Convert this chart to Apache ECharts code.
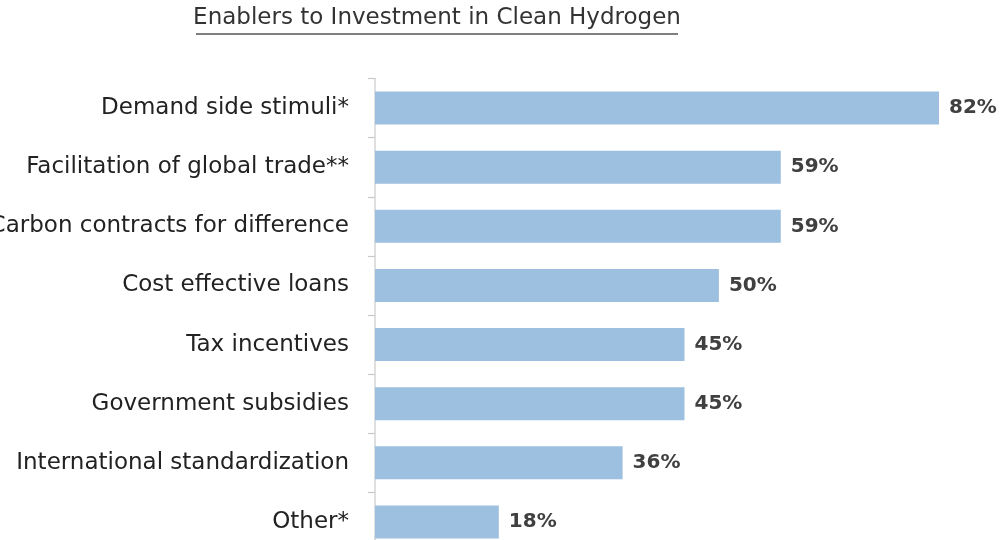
<!DOCTYPE html>
<html><head><meta charset="utf-8">
<script src="https://cdn.jsdelivr.net/npm/echarts@6/dist/echarts.min.js"></script>
<style>html,body{margin:0;padding:0;background:#fff}#c{width:1002px;height:540px}</style>
</head><body><div id="c"></div>
<script>
const categories = ["Demand side stimuli*","Facilitation of global trade**","Carbon contracts for difference","Cost effective loans","Tax incentives","Government subsidies","International standardization","Other*"];
const values = [82,59,59,50,45,45,36,18];
const titleText = "Enablers to Investment in Clean Hydrogen";
const FONT = "DejaVu Sans";
const chart = echarts.init(document.getElementById('c'));
chart.setOption({
  animation:false,
  backgroundColor:'#fff',
  graphic:[
    {type:'text', x:437, y:7, style:{text:titleText, font:'23px "DejaVu Sans"', fill:'#333', align:'center', verticalAlign:'top'}},
    {type:'line', shape:{x1:196,y1:34,x2:678,y2:34}, style:{stroke:'#555', lineWidth:1.5}}
  ],
  grid:{left:375,right:8,top:78.5,height:473,containLabel:false,outerBoundsMode:'none'},
  xAxis:{type:'value',min:0,max:90,show:false},
  yAxis:{type:'category',data:categories,inverse:true,
    axisLine:{show:true,lineStyle:{color:'#d4d4d4',width:1.5}},
    axisTick:{show:true,alignWithLabel:false,length:7,lineStyle:{color:'#c8c8c8',width:1.2}},
    axisLabel:{fontFamily:FONT,fontSize:23,color:'#222',margin:26}},
  series:[{type:'bar',data:values,barWidth:33,
    itemStyle:{color:'#9dbfe0'},
    label:{show:true,position:'right',distance:10,formatter:'{c}%',fontFamily:FONT,fontSize:20,fontWeight:'bold',color:'#404040'}}]
});
</script></body></html>
